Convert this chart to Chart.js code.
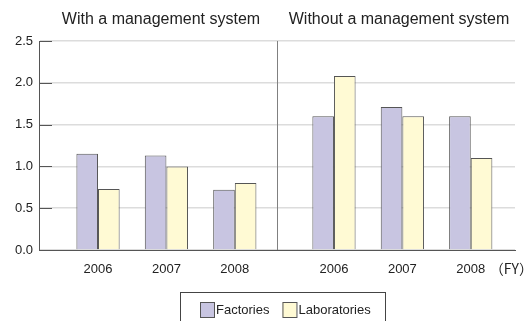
<!DOCTYPE html>
<html>
<head>
<meta charset="utf-8">
<script src="https://cdn.jsdelivr.net/npm/chart.js@4.4.1/dist/chart.umd.min.js"></script>
<style>
  body { margin: 0; background: #fff; }
  .chart-wrap { position: relative; width: 531px; height: 321px; }
</style>
</head>
<body>
<div class="chart-wrap"><canvas id="mgmtChart"></canvas></div>
<script>
const years = ["2006", "2007", "2008"];
const panelTitles = ["With a management system", "Without a management system"];
const seriesNames = ["Factories", "Laboratories"];
const factoriesWith = [1.15, 1.13, 0.72];
const laboratoriesWith = [0.73, 1.0, 0.8];
const factoriesWithout = [1.6, 1.71, 1.6];
const laboratoriesWithout = [2.08, 1.6, 1.1];
const yTicks = [0, 0.5, 1.0, 1.5, 2.0, 2.5];
const unitLabel = "（FY）";

const fillColors = ["#c8c5e1", "#fffad4"];
const edgeColor = "#555";
const textColor = "#222";
const fontFamily = '"Liberation Sans", Arial, sans-serif';

// the second panel sits a little more than one slot after the first
const groupGap = 3.45;
const xPos = years.map((_, i) => i).concat(years.map((_, i) => i + groupGap));
const xLabels = years.concat(years);

const toPoints = (a, b) => a.concat(b).map((v, i) => ({ x: xPos[i], y: v }));

Chart.defaults.font.family = fontFamily;
Chart.defaults.color = textColor;

const decorations = {
  id: "decorations",
  beforeDatasetsDraw(chart) {
    const { ctx, chartArea } = chart;
    const y = chart.scales.y;
    ctx.save();
    // short tick marks on the inside of the y axis
    ctx.strokeStyle = edgeColor;
    ctx.lineWidth = 1;
    yTicks.forEach((t) => {
      const py = Math.round(y.getPixelForValue(t)) + 0.5;
      ctx.beginPath();
      ctx.moveTo(chartArea.left, py);
      ctx.lineTo(chartArea.left + 13, py);
      ctx.stroke();
    });
    // divider between the two panels
    const mid = Math.round((chartArea.left + chartArea.right) / 2) + 0.5;
    ctx.strokeStyle = "#808080";
    ctx.beginPath();
    ctx.moveTo(mid, chartArea.top);
    ctx.lineTo(mid, chartArea.bottom);
    ctx.stroke();
    ctx.restore();
  },
  afterDraw(chart) {
    const { ctx, chartArea } = chart;
    const mid = (chartArea.left + chartArea.right) / 2;
    ctx.save();
    ctx.fillStyle = textColor;
    ctx.textBaseline = "middle";

    // panel titles
    ctx.font = "16px " + fontFamily;
    ctx.textAlign = "center";
    ctx.fillText(panelTitles[0], (chartArea.left + mid) / 2 + 3, 20);
    ctx.fillText(panelTitles[1], (mid + chartArea.right) / 2 + 3, 20);

    // unit after the last year label
    ctx.font = '14px "Noto Sans CJK JP", sans-serif';
    ctx.textAlign = "right";
    ctx.fillText(unitLabel, 533, 269);

    // legend in a framed box
    ctx.font = "13px " + fontFamily;
    ctx.textAlign = "left";
    ctx.strokeStyle = "#444";
    ctx.lineWidth = 1;
    ctx.strokeRect(180.5, 292.5, 205, 40);
    let x = 200;
    chart.data.datasets.forEach((ds) => {
      ctx.fillStyle = ds.backgroundColor;
      ctx.fillRect(x, 302, 14, 15);
      ctx.strokeStyle = edgeColor;
      ctx.strokeRect(x + 0.5, 302.5, 14, 15);
      ctx.fillStyle = textColor;
      ctx.fillText(ds.label, x + 16, 310);
      x += 16 + ctx.measureText(ds.label).width + 13;
    });
    ctx.restore();
  },
};

const ctx = document.getElementById("mgmtChart").getContext("2d");
new Chart(ctx, {
  type: "bar",
  data: {
    datasets: [
      {
        label: seriesNames[0],
        data: toPoints(factoriesWith, factoriesWithout),
        backgroundColor: fillColors[0],
        borderColor: edgeColor,
        borderWidth: 1,
      },
      {
        label: seriesNames[1],
        data: toPoints(laboratoriesWith, laboratoriesWithout),
        backgroundColor: fillColors[1],
        borderColor: edgeColor,
        borderWidth: 1,
      },
    ],
  },
  options: {
    responsive: true,
    maintainAspectRatio: false,
    animation: false,
    layout: {
      padding: { top: 41, left: 0, right: 16, bottom: 0 },
    },
    datasets: {
      bar: {
        barPercentage: 1,
        categoryPercentage: 0.632,
      },
    },
    plugins: {
      legend: { display: false },
      tooltip: { enabled: false },
    },
    scales: {
      x: {
        type: "linear",
        offset: false,
        min: -0.863,
        max: 6.097,
        afterBuildTicks: (scale) => {
          scale.ticks = xPos.map((v) => ({ value: v }));
        },
        afterFit: (scale) => {
          scale.height = 71;
        },
        ticks: {
          autoSkip: false,
          maxRotation: 0,
          padding: 12,
          font: { size: 13 },
          color: textColor,
          callback: (value, index) => xLabels[index],
        },
        grid: { display: false, drawTicks: false, offset: false },
        border: { display: true, color: edgeColor, width: 1 },
      },
      y: {
        min: 0,
        max: 2.5,
        afterBuildTicks: (scale) => {
          scale.ticks = yTicks.map((v) => ({ value: v }));
        },
        afterFit: (scale) => {
          scale.width = 39;
        },
        ticks: {
          padding: 6,
          font: { size: 13 },
          color: textColor,
          callback: (value) => Number(value).toFixed(1),
        },
        grid: { color: "#dcdcdc", lineWidth: 1.5, drawTicks: false },
        border: { display: true, color: edgeColor, width: 1 },
      },
    },
  },
  plugins: [decorations],
});
</script>
</body>
</html>
